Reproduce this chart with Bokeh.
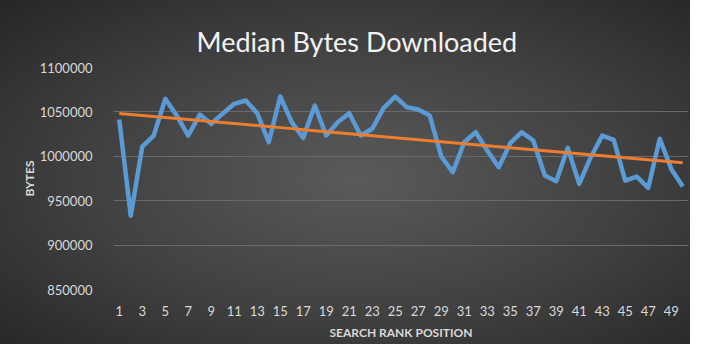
import numpy as np
from bokeh.plotting import figure
from bokeh.models import FixedTicker, NumeralTickFormatter, Range1d
from bokeh.embed import file_html
from bokeh.resources import INLINE

title_text = "Median Bytes Downloaded"
x_title = "SEARCH RANK POSITION"
y_title = "BYTES"

rank = list(range(1, 51))
median_bytes = [
    1041400, 933000, 1011000, 1023400, 1064700, 1045900, 1023400, 1047000, 1036600, 1048000,
    1059100, 1062800, 1048500, 1015900, 1067300, 1038400, 1020800, 1057200, 1023400, 1038400,
    1048500, 1023400, 1031000, 1054600, 1067300, 1055300, 1052700, 1045900, 999800, 982100,
    1015900, 1027100, 1006500, 987700, 1014800, 1027100, 1017800, 978400, 972000, 1009500,
    969000, 999000, 1023400, 1018600, 972700, 977200, 964500, 1019700, 985800, 966000,
]
x_ticks = list(range(1, 50, 2))
y_ticks = [850000, 900000, 950000, 1000000, 1050000, 1100000]

# linear trendline (least squares, like Excel's linear trendline)
slope, intercept = np.polyfit(rank, median_bytes, 1)
trend = [slope * r + intercept for r in rank]

p = figure(width=690, height=344, output_backend="svg", toolbar_location=None,
           x_range=Range1d(0.5, 50.5), y_range=Range1d(850000, 1100000),
           min_border_left=113, min_border_right=2, min_border_top=67, min_border_bottom=55,
           title=title_text)

p.styles = {"background": "radial-gradient(ellipse at 52% 52%, #5a5a5a 0%, #404040 55%, #262626 100%)"}
p.background_fill_color = None
p.border_fill_color = None
p.outline_line_color = None

p.title.align = "left"
p.title.offset = 83
p.title.text_font = "Lato"
p.title.text_font_size = "27px"
p.title.text_font_style = "normal"
p.title.text_color = "#f2f2f2"
p.title.standoff = 20
p.title.padding = (0, 0, 8, 0)

p.xgrid.visible = False
p.ygrid.grid_line_color = "#6a6a6a"
p.ygrid.grid_line_width = 1
p.yaxis.ticker = FixedTicker(ticks=y_ticks)
p.xaxis.ticker = FixedTicker(ticks=x_ticks)
p.yaxis.formatter = NumeralTickFormatter(format="0")

for ax in (p.xaxis[0], p.yaxis[0]):
    ax.axis_line_color = None
    ax.major_tick_line_color = None
    ax.minor_tick_line_color = None
    ax.major_label_text_font = "Lato"
    ax.major_label_text_font_size = "13px"
    ax.major_label_text_color = "#d9d9d9"
    ax.axis_label_text_font = "Lato"
    ax.axis_label_text_font_size = "12px"
    ax.axis_label_text_font_style = "bold"
    ax.axis_label_text_color = "#d9d9d9"

p.xaxis.axis_label = x_title
p.yaxis.axis_label = y_title
p.xaxis.major_label_standoff = 10
p.yaxis.major_label_standoff = 15
p.xaxis.axis_label_standoff = 6
p.yaxis.axis_label_standoff = 0

p.line(rank, median_bytes, line_color="#5b9bd5", line_width=4.5, line_join="round")
p.line(rank, trend, line_color="#ed7d31", line_width=3)

open("out.html", "w").write(file_html(p, INLINE))
